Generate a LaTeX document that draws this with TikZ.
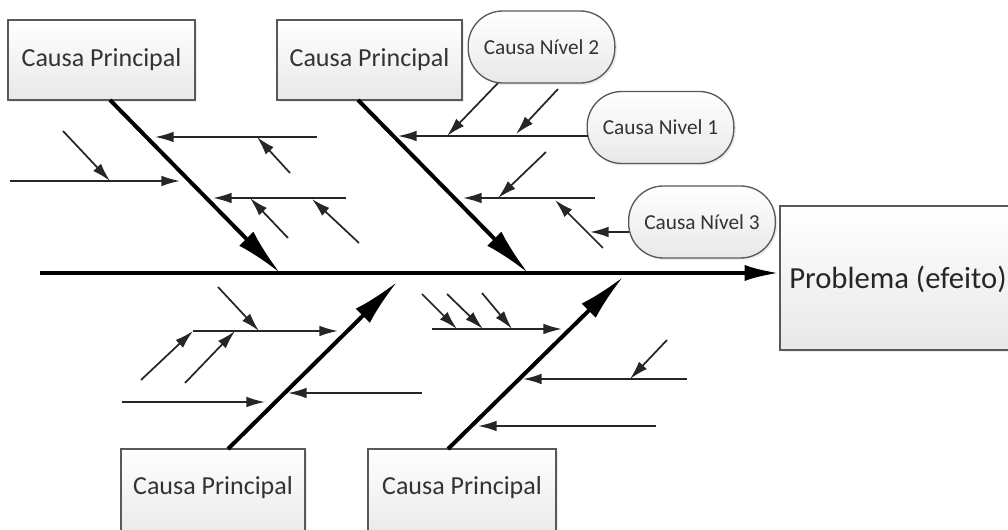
\documentclass[tikz,border=0pt]{standalone}
\usepackage{fontspec}
\setmainfont{Carlito}
\usetikzlibrary{arrows.meta,shadows}

\begin{document}
\begin{tikzpicture}[x=0.75pt,y=-0.75pt,
  boxshape/.style={draw=black!65, line width=1pt, top color=white, bottom color=black!9,
    drop shadow={opacity=0.15, shadow xshift=1.5pt, shadow yshift=-1.5pt}, inner sep=0pt},
  mainbox/.style={boxshape, minimum height=60pt, text=black!80, font=\fontsize{19.5}{22}\selectfont},
  lowbox/.style={boxshape, minimum height=68.25pt},
  lowtext/.style={inner sep=0pt, text=black!80, font=\fontsize{19.5}{22}\selectfont},
  levelbox/.style={boxshape, rounded corners=26pt, minimum width=110pt, minimum height=54pt,
    text=black!80, font=\fontsize{16}{18}\selectfont},
  spine/.style={line width=3pt, draw=black, -{Latex[length=26pt,width=12pt]}},
  bone/.style={line width=3pt, draw=black, -{Latex[length=36pt,width=15pt]}},
  sub/.style={line width=1.3pt, draw=black!85, -{Latex[length=14pt,width=8pt]}}
]
\useasboundingbox (0,0) rectangle (1008,530);
\clip (0,0) rectangle (1008,530);

% main cause boxes
\node[mainbox, minimum width=140.25pt] (cp1) at (101.5,60) {Causa Principal};
\node[mainbox, minimum width=138.75pt] (cp2) at (369.5,60) {Causa Principal};
\node[lowbox, minimum width=138pt] (cp3) at (213,494.5) {};
\node[lowtext] (cp3t) at (213,488) {Causa Principal};
\node[lowbox, minimum width=141pt] (cp4) at (462,494.5) {};
\node[lowtext] (cp4t) at (462,488) {Causa Principal};

% effect box
\node[boxshape, minimum width=176.25pt, minimum height=108pt] (prob) at (897.5,278) {};
\node[inner sep=0pt, anchor=west, text=black!85, font=\fontsize{23}{26}\selectfont] (probt) at (789,279) {Problema (efeito)};

% level labels
\node[levelbox] (lv2) at (541.5,47) {Causa Nível 2};
\node[levelbox] (lv1) at (660.5,127.5) {Causa Nivel 1};
\node[levelbox] (lv3) at (702,222) {Causa Nível 3};

% spine and main bones
\coordinate (sp0) at (40,273);
\draw[spine] (sp0) -- (sp0 -| prob.west);

\coordinate (b1s) at (110,100);  \coordinate (b1e) at (280,273);
\coordinate (b2s) at (358,100);  \coordinate (b2e) at (528,273);
\coordinate (b3s) at (228,449);  \coordinate (b3e) at (397,282);
\coordinate (b4s) at (448,449);  \coordinate (b4e) at (623,277);
\draw[bone] (b1s) -- (b1e);
\draw[bone] (b2s) -- (b2e);
\draw[bone] (b3s) -- (b3e);
\draw[bone] (b4s) -- (b4e);

% upper left bone: secondary causes
\coordinate (l1s) at (317,137);  \coordinate (l1e) at (155,137);
\coordinate (a1s) at (290,173);  \coordinate (a1e) at (257,137);
\coordinate (l2s) at (10,181);   \coordinate (l2e) at (180,181);
\coordinate (a2s) at (63,131);   \coordinate (a2e) at (110,181);
\coordinate (l3s) at (346,198);  \coordinate (l3e) at (213,198);
\coordinate (a3s) at (288,238);  \coordinate (a3e) at (250,198);
\coordinate (a4s) at (359,243);  \coordinate (a4e) at (312,199);
\draw[sub] (l1s) -- (l1e);
\draw[sub] (a1s) -- (a1e);
\draw[sub] (l2s) -- (l2e);
\draw[sub] (a2s) -- (a2e);
\draw[sub] (l3s) -- (l3e);
\draw[sub] (a3s) -- (a3e);
\draw[sub] (a4s) -- (a4e);

% upper middle bone: secondary causes
\coordinate (l4s) at (588,136);  \coordinate (l4e) at (398,136);
\coordinate (a5s) at (498,83);   \coordinate (a5e) at (447,136);
\coordinate (a6s) at (558,89);   \coordinate (a6e) at (516,134);
\coordinate (l5s) at (595,198);  \coordinate (l5e) at (463,198);
\coordinate (a7s) at (546,152);  \coordinate (a7e) at (498,198);
\coordinate (a8s) at (603,248);  \coordinate (a8e) at (555,200);
\coordinate (l6s) at (629,232);  \coordinate (l6e) at (590,232);
\draw[sub] (l4s) -- (l4e);
\draw[sub] (a5s) -- (a5e);
\draw[sub] (a6s) -- (a6e);
\draw[sub] (l5s) -- (l5e);
\draw[sub] (a7s) -- (a7e);
\draw[sub] (a8s) -- (a8e);
\draw[sub] (l6s) -- (l6e);

% lower left bone: secondary causes
\coordinate (l7s) at (193,331);  \coordinate (l7e) at (338,331);
\coordinate (a9s) at (218,287);  \coordinate (a9e) at (259,331);
\coordinate (a10s) at (141,380); \coordinate (a10e) at (193,331);
\coordinate (a11s) at (185,383); \coordinate (a11e) at (235,331);
\coordinate (l8s) at (122,402);  \coordinate (l8e) at (265,402);
\coordinate (l9s) at (422,393);  \coordinate (l9e) at (288,393);
\draw[sub] (l7s) -- (l7e);
\draw[sub] (a9s) -- (a9e);
\draw[sub] (a10s) -- (a10e);
\draw[sub] (a11s) -- (a11e);
\draw[sub] (l8s) -- (l8e);
\draw[sub] (l9s) -- (l9e);

% lower right bone: secondary causes
\coordinate (l10s) at (432,329); \coordinate (l10e) at (562,329);
\coordinate (a12s) at (422,294); \coordinate (a12e) at (457,329);
\coordinate (a13s) at (447,294); \coordinate (a13e) at (483,329);
\coordinate (a14s) at (482,293); \coordinate (a14e) at (512,329);
\coordinate (l11s) at (687,379); \coordinate (l11e) at (523,379);
\coordinate (a15s) at (667,340); \coordinate (a15e) at (630,379);
\coordinate (l12s) at (656,426); \coordinate (l12e) at (478,426);
\draw[sub] (l10s) -- (l10e);
\draw[sub] (a12s) -- (a12e);
\draw[sub] (a13s) -- (a13e);
\draw[sub] (a14s) -- (a14e);
\draw[sub] (l11s) -- (l11e);
\draw[sub] (a15s) -- (a15e);
\draw[sub] (l12s) -- (l12e);
\end{tikzpicture}
\end{document}
